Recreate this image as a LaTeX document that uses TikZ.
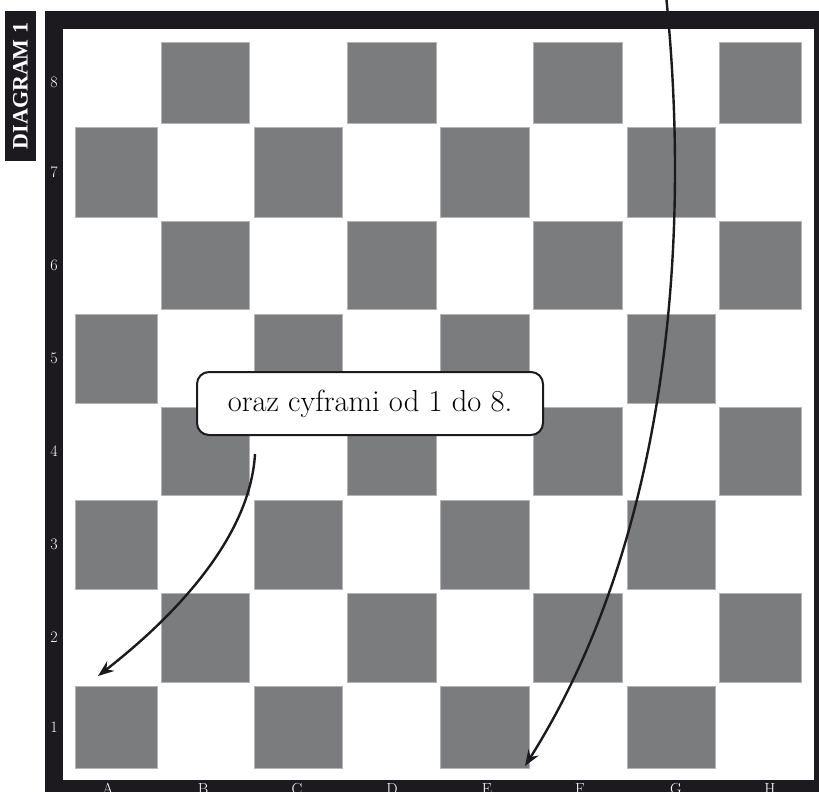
\documentclass[tikz,border=0pt]{standalone}
\usepackage{fontspec}
\newfontfamily\diagfont{Liberation Serif}
\usetikzlibrary{arrows.meta}
\definecolor{framebk}{HTML}{1C1A1F}
\definecolor{sqgray}{HTML}{7B7C7E}
\definecolor{sqedge}{HTML}{B4B4B6}
\tikzset{
  darksq/.style={fill=sqgray, draw=sqedge, line width=0.6pt},
  framelabel/.style={text=white, font=\fontsize{16}{16}\selectfont, inner sep=0pt},
  callout/.style={draw=framebk, fill=white, line width=2pt, rounded corners=12pt,
    minimum width=346pt, minimum height=63pt, inner sep=0pt,
    font=\fontsize{30.5}{32}\selectfont},
  pointer/.style={draw=framebk, line width=2.4pt,
    -{Stealth[length=16pt,width=12pt]}},
  tagbox/.style={fill=framebk, text=white, minimum width=31pt, minimum height=150pt,
    inner sep=0pt, font=\diagfont\bfseries\fontsize{22}{22}\selectfont}
}
\begin{document}
\begin{tikzpicture}[x=1pt,y=-1pt]
\useasboundingbox (0,0) rectangle (819,792);
\clip (0,0) rectangle (819,792);
\fill[white] (0,0) rectangle (819,792);
% frame
\fill[framebk] (45,11) rectangle (840,810);
\fill[white] (63,29) rectangle (814,780);
% squares
\foreach \c/\l/\r in {1/75/157, 2/161/249, 3/254/342, 4/347/436, 5/440/529, 6/533/622, 7/627/715, 8/719/801}{
  \foreach \rr/\t/\b in {8/42/123, 7/127/217, 6/221/309, 5/314/403, 4/407/495, 3/500/589, 2/593/682, 1/686/768}{
    \pgfmathtruncatemacro\pty{mod(\c+\rr,2)}
    \ifnum\pty=0
      \path[darksq] (\l,\t) rectangle (\r,\b);
    \fi
  }
}
% rank numbers
\foreach \n/\y in {8/82.5, 7/172, 6/265, 5/358.5, 4/451, 3/544.5, 2/637.5, 1/727}{
  \node[framelabel] (rank\n) at (54,\y) {\n};
}
% file letters
\foreach \n/\x in {A/108, B/203, C/297, D/392, E/487, F/580, G/676, H/770}{
  \node[framelabel, anchor=base] (file\n) at (\x,794) {\n};
}
% side tag
\node[tagbox] (tag) at (20.5,86) {\rotatebox{90}{DIAGRAM 1}};
% callout
\node[callout] (call) at (370,403.5) {oraz cyframi od 1 do 8.\hspace{18pt}};
% pointers
\coordinate (topstart) at (666,-5);
\coordinate (etarget) at (525,766);
\coordinate (callfoot) at (255,454);
\coordinate (atarget) at (98,676);
\draw[pointer] (topstart) .. controls (695,280) and (655,560) .. (etarget);
\draw[pointer] (callfoot) .. controls (250,540) and (170,620) .. (atarget);
\end{tikzpicture}
\end{document}
